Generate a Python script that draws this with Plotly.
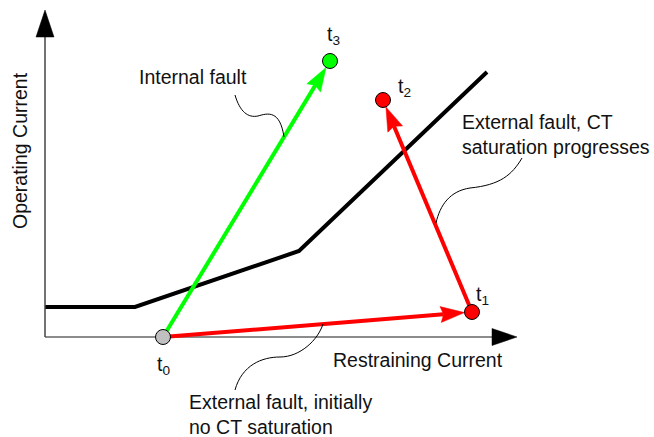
import numpy as np
import plotly.graph_objects as go

# ---- data (chart units: 1 unit ~ 1 px, origin at the axes corner) ----
char_x = [0, 90, 254, 442]
char_y = [30, 30, 86, 265]

t_names = ["t0", "t1", "t2", "t3"]
t_x = [118, 427, 338, 285]
t_y = [0, 25, 237, 276]
t_fill = ["#c0c0c0", "#ff0000", "#ff0000", "#00ff00"]

vectors = [  # (from, to, colour)
    ("t0", "t1", "#ff0000"),
    ("t1", "t2", "#ff0000"),
    ("t0", "t3", "#00ff00"),
]

x_axis_end = 472
y_axis_end = 327

labels = ["Internal fault",
          "External fault, CT<br>saturation progresses",
          "External fault, initially<br>no CT saturation"]
label_x = [92, 415, 142]
label_y = [260, 203, -77]

leader_internal = [(190, 242), (195, 225), (203, 219), (213, 221), (223, 224), (235, 227), (239, 200)]
leader_satur = [(477, 179), (467, 162), (455, 152), (425, 149), (405, 146), (395, 132), (391, 114)]
leader_init = [(278, 13), (273, -3), (255, -20), (235, -20), (217, -20), (197, -28), (190, -53)]

FONT = "Arial, Liberation Sans, sans-serif"
TXT = "#111111"

pos = {n: np.array([x, y], float) for n, x, y in zip(t_names, t_x, t_y)}
R = 7.5

fig = go.Figure()

# characteristic
fig.add_trace(go.Scatter(x=char_x, y=char_y, mode="lines",
                         line=dict(color="black", width=4), hoverinfo="skip"))

# axes lines
fig.add_trace(go.Scatter(x=[0, x_axis_end - 20], y=[0, 0], mode="lines",
                         line=dict(color="#666666", width=1.5), hoverinfo="skip"))
fig.add_trace(go.Scatter(x=[0, 0], y=[0, y_axis_end - 20], mode="lines",
                         line=dict(color="#444444", width=1.5), hoverinfo="skip"))
# axes arrowheads
fig.add_trace(go.Scatter(x=[x_axis_end - 25, x_axis_end, x_axis_end - 25, x_axis_end - 25],
                         y=[8.5, 0, -8.5, 8.5], mode="lines", fill="toself",
                         fillcolor="black", line=dict(color="black", width=0.5), hoverinfo="skip"))
fig.add_trace(go.Scatter(x=[-9, 0, 9, -9],
                         y=[y_axis_end - 27, y_axis_end, y_axis_end - 27, y_axis_end - 27],
                         mode="lines", fill="toself",
                         fillcolor="black", line=dict(color="black", width=0.5), hoverinfo="skip"))

# vectors
L, W, NOTCH = 24, 8, 3
for a, b, col in vectors:
    P, Q = pos[a], pos[b]
    u = (Q - P) / np.linalg.norm(Q - P)
    n = np.array([-u[1], u[0]])
    tip = Q - u * R
    base = tip - u * L
    c1, c2 = base + n * W, base - n * W
    nt = tip - u * (L - NOTCH)
    fig.add_trace(go.Scatter(x=[P[0], nt[0]], y=[P[1], nt[1]], mode="lines",
                             line=dict(color=col, width=4), hoverinfo="skip"))
    poly = [tip, c1, nt, c2, tip]
    fig.add_trace(go.Scatter(x=[p[0] for p in poly], y=[p[1] for p in poly],
                             mode="lines", fill="toself", fillcolor=col,
                             line=dict(color=col, width=0.5), hoverinfo="skip"))

# points
fig.add_trace(go.Scatter(x=t_x, y=t_y, mode="markers",
                         marker=dict(size=15, color=t_fill, line=dict(color="black", width=1)),
                         hoverinfo="skip"))


def bez_path(pts):
    s = "M %g,%g" % pts[0]
    for i in range(1, len(pts), 3):
        s += " C %g,%g %g,%g %g,%g" % (*pts[i], *pts[i + 1], *pts[i + 2])
    return s


for pts in (leader_internal, leader_satur, leader_init):
    fig.add_shape(type="path", path=bez_path(pts), xref="x", yref="y",
                  line=dict(color="black", width=1))

ann = []
# t labels
t_lab_pos = {"t0": (110, -28), "t1": (429, 42), "t2": (351, 250), "t3": (280, 302)}
for nme in t_names:
    lx, ly = t_lab_pos[nme]
    ann.append(dict(x=lx, y=ly, text="t<sub>%s</sub>" % nme[1], xanchor="left", yanchor="middle"))

for txt, lx, ly in zip(labels, label_x, label_y):
    ann.append(dict(x=lx, y=ly, text=txt, xanchor="left", yanchor="middle", align="left"))

ann.append(dict(x=286, y=-23, text="Restraining Current", xanchor="left", yanchor="middle"))
ann.append(dict(x=-25, y=186, text="Operating Current", textangle=-90,
                xanchor="center", yanchor="middle"))

for a in ann:
    a.update(xref="x", yref="y", showarrow=False,
             font=dict(family=FONT, size=19.5, color=TXT))

fig.update_layout(
    width=654, height=437, margin=dict(l=0, r=0, t=0, b=0),
    paper_bgcolor="white", plot_bgcolor="white", showlegend=False,
    hovermode=False,
    xaxis=dict(range=[-45, 609], visible=False, fixedrange=True),
    yaxis=dict(range=[-100, 337], visible=False, fixedrange=True),
    annotations=ann,
)

# remove the default 8px page margin so the figure fills the window exactly
fig.write_html("out.html",
               config={"displayModeBar": False, "staticPlot": True},
               post_script="document.body.style.margin='0px';"
                           "document.body.style.overflow='hidden';")
